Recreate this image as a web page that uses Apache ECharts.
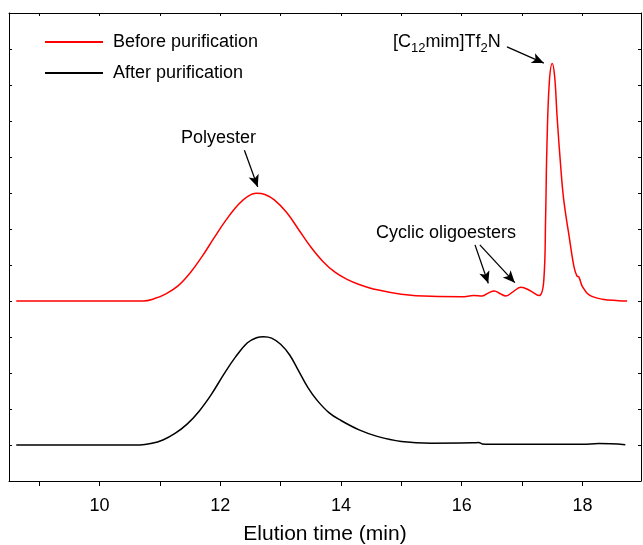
<!DOCTYPE html>
<html>
<head>
<meta charset="utf-8">
<script src="https://cdn.jsdelivr.net/npm/echarts@6/dist/echarts.min.js"></script>
<style>
  html, body { margin: 0; padding: 0; background: #fff; }
  #chart { width: 643px; height: 545px; }
</style>
</head>
<body>
<div id="chart"></div>
<script>
// elution time (min) and detector signal (offset units)
var timeBefore = [8.62, 10.0, 10.72, 10.9, 11.1, 11.3, 11.5, 11.7, 11.9, 12.1, 12.3, 12.45, 12.6, 12.75, 12.9,
  13.1, 13.3, 13.5, 13.7, 13.9, 14.1, 14.3, 14.6, 15.0, 15.5, 16.0, 16.2, 16.34, 16.44, 16.54, 16.64, 16.73,
  16.86, 16.98, 17.12, 17.28, 17.36, 17.39, 17.41, 17.45, 17.5, 17.54, 17.58, 17.64, 17.69, 17.78, 17.86,
  17.91, 17.94, 18.0, 18.11, 18.33, 18.6, 18.74];
var signalBefore = [5.0, 5.0, 5.0, 5.06, 5.2, 5.42, 5.78, 6.24, 6.76, 7.26, 7.68, 7.9, 7.99, 7.95, 7.8,
  7.46, 6.98, 6.5, 6.1, 5.8, 5.6, 5.46, 5.31, 5.19, 5.13, 5.12, 5.15, 5.14, 5.22, 5.28, 5.2, 5.14,
  5.27, 5.38, 5.3, 5.15, 5.58, 7.34, 9.19, 11.05, 11.6, 11.23, 10.12, 8.73, 7.81, 6.79, 5.95,
  5.69, 5.67, 5.4, 5.17, 5.05, 5.01, 5.0];

var timeAfter = [8.62, 10.0, 10.67, 10.85, 11.05, 11.25, 11.45, 11.65, 11.85, 12.05, 12.25, 12.45, 12.6, 12.72,
  12.85, 13.0, 13.15, 13.3, 13.45, 13.6, 13.8, 14.0, 14.3, 14.6, 15.0, 15.5, 16.18, 16.28, 16.34, 16.45, 17.28,
  18.0, 18.27, 18.71];
var signalAfter = [1.0, 1.0, 1.0, 1.04, 1.14, 1.32, 1.58, 1.94, 2.4, 2.94, 3.44, 3.84, 3.98, 4.01,
  3.97, 3.8, 3.5, 3.05, 2.6, 2.25, 1.9, 1.68, 1.42, 1.24, 1.1, 1.05, 1.06, 1.07, 1.03, 1.02, 1.02,
  1.02, 1.04, 1.01];

var labelTicks = [10, 12, 14, 16, 18];
var minorTicks = [9, 10, 11, 12, 13, 14, 15, 16, 17, 18];

function pairs(xs, ys) {
  return xs.map(function (x, i) { return [x, ys[i]]; });
}

var chart = echarts.init(document.getElementById('chart'));
var font = 'Liberation Sans, Arial, sans-serif';

chart.setOption({
  animation: false,
  grid: { left: 9, right: 2, top: 13, bottom: 64, outerBoundsMode: 'none', containLabel: false },
  legend: {
    orient: 'vertical',
    left: 40,
    top: 28,
    icon: 'rect',
    itemWidth: 58,
    itemHeight: 2,
    itemGap: 13,
    textStyle: { fontFamily: font, fontSize: 18, lineHeight: 18, color: '#000', padding: [0, 0, 0, 5] },
    data: ['Before purification', 'After purification']
  },
  xAxis: [{
    type: 'value',
    min: 8.5,
    max: 18.97,
    name: 'Elution time (min)',
    nameLocation: 'middle',
    nameGap: 43,
    nameTextStyle: { fontFamily: font, fontSize: 21, color: '#000' },
    axisLine: { onZero: false, lineStyle: { color: '#000', width: 1 } },
    axisTick: { inside: false, length: 5, customValues: minorTicks, lineStyle: { color: '#000' } },
    axisLabel: { customValues: labelTicks, fontFamily: font, fontSize: 18, color: '#000', margin: 16 },
    splitLine: { show: false }
  }, {
    type: 'value',
    position: 'top',
    min: 8.5,
    max: 18.97,
    axisLine: { onZero: false, lineStyle: { color: '#000', width: 1 } },
    axisTick: { inside: true, length: 3, customValues: minorTicks, lineStyle: { color: '#000' } },
    axisLabel: { show: false },
    splitLine: { show: false }
  }],
  yAxis: [{
    type: 'value',
    min: 0,
    max: 13,
    interval: 1,
    axisLine: { show: true, onZero: false, lineStyle: { color: '#000', width: 1 } },
    axisTick: { show: true, inside: true, length: 3, lineStyle: { color: '#000' } },
    axisLabel: { show: false },
    splitLine: { show: false }
  }, {
    type: 'value',
    position: 'right',
    min: 0,
    max: 13,
    interval: 1,
    axisLine: { show: true, onZero: false, lineStyle: { color: '#000', width: 1 } },
    axisTick: { show: true, inside: true, length: 3, lineStyle: { color: '#000' } },
    axisLabel: { show: false },
    splitLine: { show: false }
  }],
  series: [{
    name: 'Before purification',
    type: 'line',
    data: pairs(timeBefore, signalBefore),
    symbol: 'none',
    smooth: 0.4,
    color: '#ff0000',
    lineStyle: { color: '#ff0000', width: 1.5 },
    markLine: {
      silent: true,
      symbol: ['none', 'arrow'],
      symbolSize: [8, 12],
      label: { show: false },
      lineStyle: { color: '#000', width: 1.3, type: 'solid' },
      data: [
        [{ coord: [12.4, 9.19] }, { coord: [12.62, 8.17] }],
        [{ coord: [16.75, 12.06] }, { coord: [17.36, 11.61] }],
        [{ coord: [16.22, 6.56] }, { coord: [16.44, 5.49] }],
        [{ coord: [16.3, 6.56] }, { coord: [16.88, 5.51] }]
      ]
    }
  }, {
    name: 'After purification',
    type: 'line',
    data: pairs(timeAfter, signalAfter),
    symbol: 'none',
    smooth: 0.4,
    color: '#000',
    lineStyle: { color: '#000', width: 1.5 }
  }],
  graphic: [{
    type: 'text',
    left: 181,
    top: 129,
    style: { text: 'Polyester', fontFamily: font, fontSize: 18, fill: '#000' }
  }, {
    type: 'text',
    left: 376,
    top: 224,
    style: { text: 'Cyclic oligoesters', fontFamily: font, fontSize: 18, fill: '#000' }
  }, {
    type: 'text',
    left: 393,
    top: 33,
    style: {
      text: '{n|[C}{s|12}{n|mim]Tf}{s|2}{n|N}',
      rich: {
        n: { fontFamily: font, fontSize: 18, lineHeight: 18, verticalAlign: 'top', fill: '#000' },
        s: { fontFamily: font, fontSize: 13, lineHeight: 22, verticalAlign: 'bottom', fill: '#000' }
      }
    }
  }]
});
</script>
</body>
</html>
